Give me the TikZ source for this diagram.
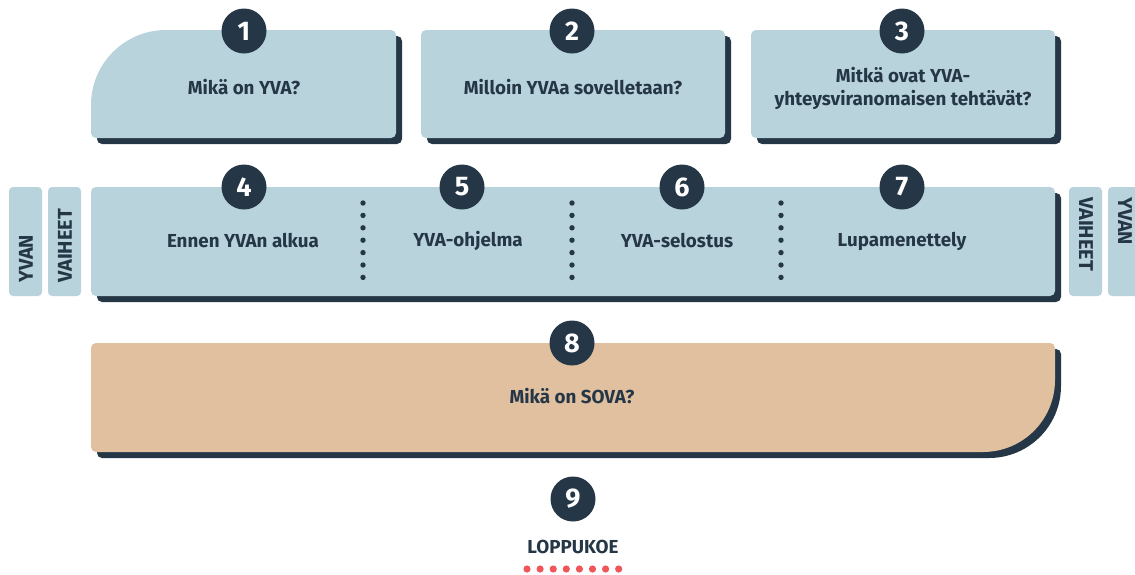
\documentclass[tikz,border=0pt]{standalone}
\usepackage{fontspec}
\setmainfont{Fira Sans}
\definecolor{dk}{HTML}{253746}
\definecolor{lb}{HTML}{B9D3DC}
\definecolor{tan}{HTML}{E0C09F}
\definecolor{rd}{HTML}{F0555A}
% L T R B rTL rTR rBR rBL
\newcommand\myrpath[8]{({#1+#5},#2) -- ({#3-#6},#2) .. controls ({#3-#6+0.5523*#6},#2) and (#3,{#2+#6-0.5523*#6}) .. (#3,{#2+#6})
 -- (#3,{#4-#7}) .. controls (#3,{#4-#7+0.5523*#7}) and ({#3-#7+0.5523*#7},#4) .. ({#3-#7},#4)
 -- ({#1+#8},#4) .. controls ({#1+#8-0.5523*#8},#4) and (#1,{#4-#8+0.5523*#8}) .. (#1,{#4-#8})
 -- (#1,{#2+#5}) .. controls (#1,{#2+#5-0.5523*#5}) and ({#1+#5-0.5523*#5},#2) .. ({#1+#5},#2) -- cycle}
\newcommand\mybox[9]{%
 \fill[dk,shift={(6,6)}] \myrpath{#1}{#2}{#3}{#4}{#5}{#6}{#7}{#8};
 \fill[#9] \myrpath{#1}{#2}{#3}{#4}{#5}{#6}{#7}{#8};}
\tikzset{
 numc/.style={circle,fill=dk,text=white,minimum size=45pt,inner sep=0pt,font=\fontsize{27}{27}\selectfont\bfseries},
 lbl/.style={text=dk,font=\fontsize{18.8}{23}\selectfont\bfseries,align=center,inner sep=0pt},
 tab/.style={text=dk,font=\fontsize{20}{20}\selectfont\bfseries,inner sep=0pt},
}
\begin{document}
\begin{tikzpicture}[x=1pt,y=-1pt]
\useasboundingbox (0,0) rectangle (1135,574);
% row 1
\mybox{91}{30}{396}{138}{75}{5}{5}{5}{lb}
\mybox{421}{30}{725}{138}{5}{5}{5}{5}{lb}
\mybox{751}{30}{1055}{138}{5}{5}{5}{5}{lb}
\node[lbl] (t1) at (244,87) {Mikä on YVA?};
\node[lbl] (t2) at (573,87) {Milloin YVAa sovelletaan?};
\node[lbl] (t3) at (903,88) {Mitkä ovat YVA-\\yhteysviranomaisen tehtävät?};
\node[numc] (c1) at (244,31) {1};
\node[numc] (c2) at (572,31) {2};
\node[numc] (c3) at (902,31) {3};
% row 2
\mybox{91}{187}{1055}{296}{5}{5}{5}{5}{lb}
\fill[lb,rounded corners=4] (9,187) rectangle (42,296);
\fill[lb,rounded corners=4] (48,187) rectangle (81,296);
\fill[lb,rounded corners=4] (1069,187) rectangle (1102,296);
\fill[lb,rounded corners=4] (1108,187) rectangle (1141,296);
\node[tab,rotate=90,anchor=west] (yl) at (26,283) {YVAN};
\node[tab,rotate=90,anchor=west] (vl) at (65,283) {VAIHEET};
\node[tab,rotate=-90,anchor=west] (vr) at (1086,197) {VAIHEET};
\node[tab,rotate=-90,anchor=west] (yr) at (1125,197) {YVAN};
\foreach \x in {363,572,781}{\foreach \i in {0,...,6}{\fill[dk] (\x,{203+\i*12.4}) circle (2.7);}}
\node[lbl] (t4) at (243,241) {Ennen YVAn alkua};
\node[lbl] (t5) at (468,241) {YVA-ohjelma};
\node[lbl] (t6) at (677,241) {YVA-selostus};
\node[lbl] (t7) at (902,241) {Lupamenettely};
\node[numc] (c4) at (244,187) {4};
\node[numc] (c5) at (462,187) {5};
\node[numc] (c6) at (682,187) {6};
\node[numc] (c7) at (902,187) {7};
% row 3
\mybox{91}{343}{1055}{452}{5}{5}{72}{5}{tan}
\node[lbl] (t8) at (572,396) {Mikä on SOVA?};
\node[numc] (c8) at (572,343) {8};
% final
\node[numc] (c9) at (573,499) {9};
\node[lbl] (t9) at (573,547) {LOPPUKOE};
\foreach \i in {0,...,7}{\fill[rd] ({527+\i*13.1},569) circle (3.6);}
\end{tikzpicture}
\end{document}
